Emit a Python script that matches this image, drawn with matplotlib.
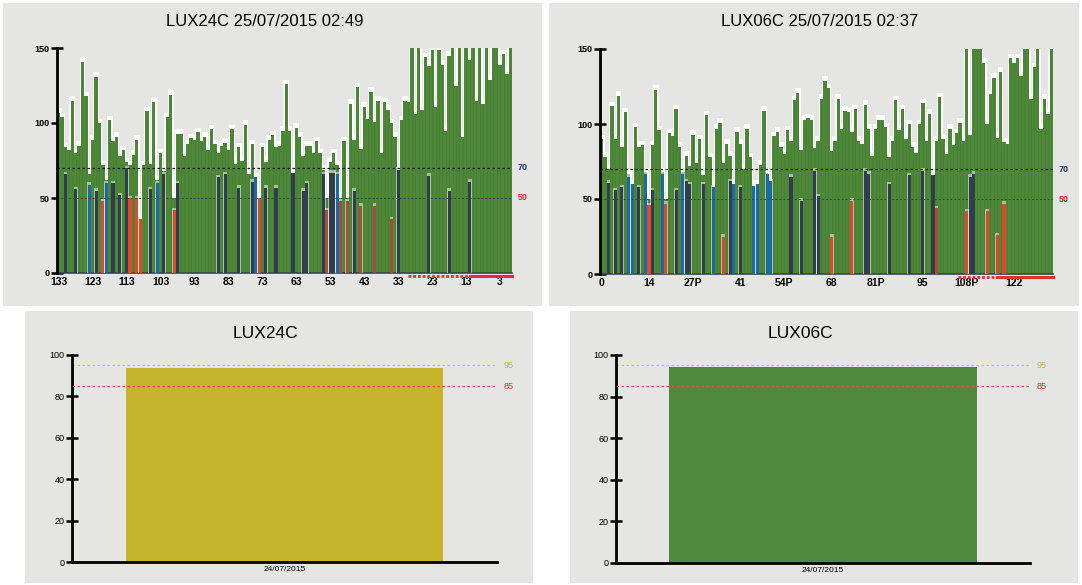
import matplotlib
matplotlib.use("Agg")
import matplotlib.pyplot as plt
import matplotlib.transforms as mtrans
from matplotlib.patches import Rectangle
import numpy as np

plt.rcParams['font.family'] = ['Liberation Sans', 'DejaVu Sans']

# ---------------- data ----------------
tl_title = "LUX24C 25/07/2015 02:49"
tr_title = "LUX06C 25/07/2015 02:37"
bl_title = "LUX24C"
br_title = "LUX06C"

tl_green = [107, 104, 84, 82, 115, 80, 85, 141, 118, 66,
            89, 131, 100, 72, 62, 102, 88, 91, 78, 82,
            74, 72, 79, 89, 36, 72, 108, 73, 114, 62,
            80, 68, 104, 119, 50, 93, 93, 78, 86, 90,
            89, 94, 88, 91, 82, 96, 86, 80, 85, 87,
            82, 96, 73, 84, 75, 99, 66, 86, 64, 50,
            84, 74, 89, 92, 84, 85, 95, 126, 95, 67,
            97, 91, 78, 85, 85, 80, 88, 80, 69, 50,
            74, 80, 72, 50, 88, 50, 113, 89, 124, 83,
            111, 103, 121, 101, 115, 80, 114, 109, 100, 91,
            69, 102, 115, 114, 150, 106, 150, 109, 144, 138,
            149, 111, 149, 139, 95, 145, 150, 125, 150, 91,
            150, 142, 150, 115, 150, 113, 150, 129, 150, 150,
            139, 146, 133, 150]
tl_tick_pos = [0, 10, 20, 30, 40, 50, 60, 70, 80, 90, 100, 110, 120, 130]
tl_tick_lab = ["133", "123", "113", "103", "93", "83", "73", "63", "53",
               "43", "33", "23", "13", "3"]
tl_ov_idx = [2, 5, 9, 11, 13, 14, 16, 18, 20, 21, 23, 24, 27, 29, 31, 34, 35,
             47, 49, 53, 57, 58, 59, 61, 64, 69, 72, 73, 78, 79, 80, 81, 82,
             83, 85, 87, 89, 93, 98, 100, 109, 115, 121]
tl_ov_val = [66, 56, 59, 55, 48, 60, 60, 52, 70, 50, 50, 36, 56, 60, 66, 42, 60,
             64, 66, 57, 61, 64, 50, 57, 57, 67, 55, 60, 66, 42, 67, 67, 66,
             48, 48, 55, 45, 45, 36, 69, 65, 55, 61]
tl_ov_col = ["n", "n", "b", "n", "r", "b", "n", "n", "n", "r", "r", "r", "n", "b", "n", "r", "n",
             "n", "n", "n", "n", "b", "r", "n", "n", "n", "n", "n", "n", "m", "n", "n", "b",
             "m", "m", "n", "m", "m", "m", "n", "n", "n", "n"]
tl_red_dashed = [103, 121]
tl_red_solid = [121, 133.5]

tr_green = [90, 78, 70, 112, 90, 119, 85, 108, 67, 60,
            98, 85, 86, 68, 50, 86, 123, 96, 68, 50,
            94, 92, 110, 85, 68, 79, 72, 93, 74, 90,
            66, 106, 78, 58, 97, 101, 74, 87, 79, 60,
            95, 87, 70, 97, 78, 59, 60, 73, 109, 67,
            62, 92, 95, 85, 80, 96, 89, 116, 121, 83,
            103, 104, 103, 84, 89, 117, 129, 124, 82, 89,
            117, 97, 109, 108, 95, 110, 89, 87, 113, 97,
            79, 97, 103, 103, 98, 78, 89, 116, 96, 110,
            90, 100, 85, 81, 100, 114, 89, 107, 66, 89,
            118, 90, 80, 97, 86, 94, 101, 89, 150, 93,
            150, 150, 150, 141, 100, 120, 131, 91, 135, 88,
            87, 144, 141, 144, 132, 150, 150, 117, 138, 150,
            97, 117, 107, 150]
tr_tick_pos = [0, 14, 27, 41, 54, 68, 81, 95, 108, 122]
tr_tick_lab = ["0", "14", "27P", "41", "54P", "68", "81P", "95", "108P", "122"]
tr_ov_idx = [2, 4, 6, 8, 9, 11, 13, 14, 15, 18, 19, 22, 24, 25, 26, 30, 33, 36,
             38, 39, 41, 45, 46, 49, 50, 56, 59, 63, 64, 68, 74, 78, 79, 85,
             91, 95, 98, 99, 108, 109, 110, 114, 117, 119]
tr_ov_val = [61, 56, 58, 65, 60, 58, 67, 46, 56, 67, 47, 56, 67, 62, 60, 60, 58, 25,
             62, 60, 58, 59, 60, 67, 62, 65, 49, 69, 52, 25, 49, 69, 67, 60,
             66, 69, 66, 44, 42, 65, 67, 42, 26, 47]
tr_ov_col = ["n", "n", "n", "b", "b", "n", "b", "r", "n", "b", "r", "n", "b", "n", "n", "n", "b", "r",
             "n", "b", "n", "b", "b", "b", "b", "n", "n", "n", "n", "r", "r", "n", "n", "n",
             "n", "n", "n", "m", "r", "n", "n", "r", "r", "r"]
tr_red_dashed = [105.5, 117]
tr_red_solid = [117, 133.5]

top_thresholds = [70, 50]
bottom_thresholds = [95, 85]
bl_value = [93.5]
br_value = [94.0]
bottom_dates = ["24/07/2015"]

# ---------------- style ----------------
W, H = 1082, 585
GREEN = "#4d8839"
OV_COLORS = {"n": "#2f3d4e", "b": "#1d68a6", "r": "#e0482c", "m": "#a84a3c"}
PANEL = "#e5e5e3"

fig = plt.figure(figsize=(W / 100, H / 100), dpi=100)
fig.patch.set_facecolor("white")


def panel(x0, y0, x1, y1):
    fig.add_artist(Rectangle((x0 / W, 1 - y1 / H), (x1 - x0) / W, (y1 - y0) / H,
                             transform=fig.transFigure, facecolor=PANEL,
                             edgecolor="none", zorder=0))


def px_axes(x0, y0, x1, y1):
    ax = fig.add_axes([x0 / W, 1 - y1 / H, (x1 - x0) / W, (y1 - y0) / H])
    ax.set_facecolor("none")
    return ax


panel(3, 3, 542, 306)
panel(549, 3, 1079, 306)
panel(25, 311, 533, 583)
panel(570, 311, 1078, 583)


def top_chart(ax, green, ov_idx, ov_val, ov_col, tpos, tlab, red_dash, red_solid):
    x = np.arange(len(green))
    g = np.array(green, dtype=float)
    # white halo behind bars
    ax.bar(x, np.minimum(g + 3, 151), width=1.7, color="white", zorder=1, linewidth=0)
    ax.bar(x, g, width=1.0, color=GREEN, zorder=2, linewidth=0)
    # thin darker stems on bars
    ax.vlines(x, 0, g, colors="#3f7330", linewidth=0.5, zorder=2.5, alpha=0.5)
    cols = [OV_COLORS[c] for c in ov_col]
    ov_top = np.array(ov_val, dtype=float)
    ax.bar(ov_idx, ov_top + 1.5, width=1.15, color="white", zorder=2.8, linewidth=0, alpha=0.5)
    ax.bar(ov_idx, ov_val, width=0.9, color=cols, zorder=3, linewidth=0)
    ax.axhline(top_thresholds[0], color="#1a1a1a", linestyle=(0, (2, 2)), linewidth=0.9, zorder=4)
    ax.axhline(top_thresholds[1], color="#444444", linestyle=(0, (2, 2)), linewidth=0.7, zorder=4)
    tr = mtrans.blended_transform_factory(ax.transAxes, ax.transData)
    ax.text(1.012, top_thresholds[0], str(top_thresholds[0]), transform=tr, color="#1f3f8a",
            fontsize=6.5, fontweight="bold", va="center", ha="left")
    ax.text(1.012, top_thresholds[1], str(top_thresholds[1]), transform=tr, color="#d83030",
            fontsize=6.5, fontweight="bold", va="center", ha="left")
    ax.plot(red_dash, [-2, -2], color="#e03030", linewidth=2, linestyle=(0, (1, 0.7)),
            clip_on=False, zorder=5)
    ax.plot(red_solid, [-2, -2], color="#e03030", linewidth=2.2, clip_on=False, zorder=5)
    ax.set_xlim(-0.5, len(green) - 0.5)
    ax.set_ylim(0, 150)
    ax.set_yticks([0, 50, 100, 150])
    ax.set_yticklabels(["0", "50", "100", "150"])
    ax.set_xticks(tpos)
    ax.set_xticklabels(tlab)
    for s in ["top", "right"]:
        ax.spines[s].set_visible(False)
    ax.spines["left"].set_linewidth(2)
    ax.spines["left"].set_color("black")
    ax.spines["left"].set_zorder(6)
    ax.spines["bottom"].set_linewidth(1.2)
    ax.spines["bottom"].set_color("#3a4450")
    ax.tick_params(axis="y", direction="inout", length=9, width=1.8, labelsize=6.5, pad=1,
                   colors="black")
    ax.tick_params(axis="x", length=0, labelsize=7.5, pad=3)
    for t in ax.get_xticklabels() + ax.get_yticklabels():
        t.set_fontweight("bold")


def bottom_chart(ax, value, color):
    ax.bar([0], value, width=0.745, color=color, zorder=2, linewidth=0)
    ax.axhline(bottom_thresholds[0], color="#c9c77a", linestyle=(0, (2, 2)), linewidth=0.9, zorder=1)
    ax.axhline(bottom_thresholds[1], color="#d85060", linestyle=(0, (2, 2)), linewidth=0.9, zorder=3)
    tr = mtrans.blended_transform_factory(ax.transAxes, ax.transData)
    ax.text(1.015, bottom_thresholds[0], str(bottom_thresholds[0]), transform=tr,
            color="#c2b84a", fontsize=6.5, va="center", ha="left")
    ax.text(1.015, bottom_thresholds[1], str(bottom_thresholds[1]), transform=tr,
            color="#d83030", fontsize=6.5, va="center", ha="left")
    ax.set_xlim(-0.5, 0.5)
    ax.set_ylim(0, 100)
    ax.set_yticks([0, 20, 40, 60, 80, 100])
    ax.set_xticks([0])
    ax.set_xticklabels(bottom_dates)
    for s in ["top", "right"]:
        ax.spines[s].set_visible(False)
    ax.spines["left"].set_linewidth(2)
    ax.spines["bottom"].set_linewidth(2)
    ax.tick_params(axis="y", direction="inout", length=9, width=1.8, labelsize=6.5, pad=1)
    ax.tick_params(axis="x", length=0, labelsize=6, pad=3)


ax_tl = px_axes(57, 48, 512, 273)
top_chart(ax_tl, tl_green, tl_ov_idx, tl_ov_val, tl_ov_col, tl_tick_pos, tl_tick_lab,
          tl_red_dashed, tl_red_solid)
ax_tr = px_axes(600, 49, 1053, 274)
top_chart(ax_tr, tr_green, tr_ov_idx, tr_ov_val, tr_ov_col, tr_tick_pos, tr_tick_lab,
          tr_red_dashed, tr_red_solid)

ax_bl = px_axes(72, 355, 497, 562)
bottom_chart(ax_bl, bl_value, "#c6b52c")
ax_br = px_axes(616, 355, 1030, 563)
bottom_chart(ax_br, br_value, "#4f8a3c")

fig.text(265 / W, 1 - 22 / H, tl_title, ha="center", va="center", fontsize=12)
fig.text(820 / W, 1 - 22 / H, tr_title, ha="center", va="center", fontsize=12)
fig.text(265 / W, 1 - 333 / H, bl_title, ha="center", va="center", fontsize=12.5)
fig.text(800 / W, 1 - 333 / H, br_title, ha="center", va="center", fontsize=12.5)

fig.savefig("out.png", dpi=100, facecolor=fig.get_facecolor())
